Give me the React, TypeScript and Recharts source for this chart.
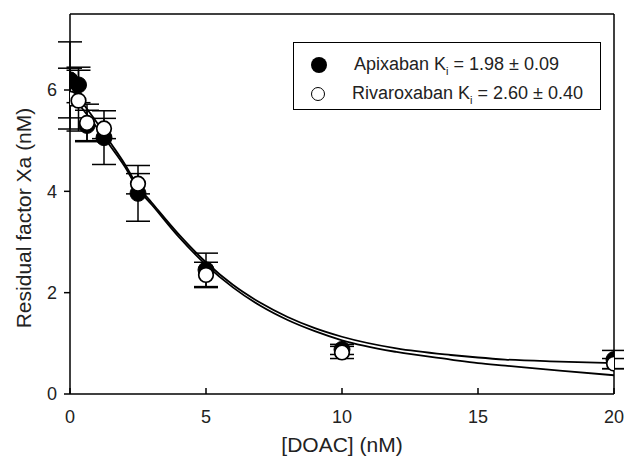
import React from 'react';
import {
  ComposedChart,
  Line,
  Scatter,
  ErrorBar,
  XAxis,
  YAxis,
  ReferenceLine,
} from 'recharts';

// measured concentrations (nM)
const concentrations = [0, 0.3125, 0.625, 1.25, 2.5, 5, 10, 20];

// residual factor Xa, mean and error (nM)
const apixabanMean = [6.2, 6.1, 5.3, 5.06, 3.96, 2.45, 0.88, 0.68];
const apixabanErr = [0.75, 0.35, 0.3, 0.53, 0.55, 0.33, 0.1, 0.18];
const rivaroxabanMean = [5.83, 5.79, 5.35, 5.24, 4.15, 2.35, 0.82, 0.6];
const rivaroxabanErr = [0.6, 0.6, 0.37, 0.2, 0.2, 0.25, 0.12, 0.1];

// fitted curves
const fitX = [0, 0.5, 1, 1.5, 2, 2.5, 3, 4, 5, 6, 7, 8, 9, 10, 12, 14, 15, 16, 18, 20];
const apixabanFit = [6.1, 5.72, 5.35, 4.95, 4.55, 4.1, 3.78, 3.15, 2.6, 2.15, 1.8, 1.52, 1.3, 1.13, 0.9, 0.77, 0.72, 0.68, 0.64, 0.61];
const rivaroxabanFit = [5.95, 5.6, 5.25, 4.88, 4.5, 4.05, 3.74, 3.1, 2.55, 2.1, 1.74, 1.46, 1.24, 1.06, 0.83, 0.68, 0.61, 0.56, 0.46, 0.37];

const xTicks = [0, 5, 10, 15, 20];
const yTicks = [0, 2, 4, 6];
const xMax = 20;
const yMax = 7.5;

const apixabanPoints = concentrations.map((x, i) => ({ x, y: apixabanMean[i], err: apixabanErr[i] }));
const rivaroxabanPoints = concentrations.map((x, i) => ({ x, y: rivaroxabanMean[i], err: rivaroxabanErr[i] }));
const apixabanCurve = fitX.map((x, i) => ({ x, y: apixabanFit[i] }));
const rivaroxabanCurve = fitX.map((x, i) => ({ x, y: rivaroxabanFit[i] }));

const FONT = '"Liberation Sans", Arial, sans-serif';
const TEXT = '#222';

const FilledDot = (props: any) => (
  <circle cx={props.cx} cy={props.cy} r={8} fill="#000" stroke="#000" strokeWidth={1} />
);
const OpenDot = (props: any) => (
  <circle cx={props.cx} cy={props.cy} r={7.3} fill="#fff" stroke="#000" strokeWidth={1.7} />
);

const YLabel = (props: any) => {
  const { viewBox } = props;
  const cx = viewBox.x + 13;
  const cy = viewBox.y + viewBox.height / 2 + 14;
  return (
    <text
      x={cx}
      y={cy}
      transform={`rotate(-90 ${cx} ${cy})`}
      textAnchor="middle"
      dominantBaseline="central"
      fontSize={21}
      fill={TEXT}
      fontFamily={FONT}
    >
      Residual factor Xa (nM)
    </text>
  );
};

const LegendBox = () => (
  <div
    style={{
      position: 'absolute',
      left: 293,
      top: 42,
      width: 306,
      height: 66,
      border: '1.5px solid #000',
      background: '#fff',
      fontFamily: FONT,
      fontSize: 18,
      color: TEXT,
    }}
  >
    <div style={{ position: 'absolute', left: 17, top: 11, display: 'flex', alignItems: 'center' }}>
      <span style={{ width: 16, height: 16, borderRadius: '50%', background: '#000', display: 'inline-block' }} />
      <span style={{ marginLeft: 27 }}>
        Apixaban K<sub style={{ fontSize: 11 }}>i</sub> = 1.98 ± 0.09
      </span>
    </div>
    <div style={{ position: 'absolute', left: 17, top: 40, display: 'flex', alignItems: 'center' }}>
      <span
        style={{
          width: 12,
          height: 12,
          borderRadius: '50%',
          border: '1.7px solid #000',
          display: 'inline-block',
          marginLeft: 0,
        }}
      />
      <span style={{ marginLeft: 27 }}>
        Rivaroxaban K<sub style={{ fontSize: 11 }}>i</sub> = 2.60 ± 0.40
      </span>
    </div>
  </div>
);

export default function App() {
  return (
    <div style={{ position: 'absolute', left: 0, top: 0, width: 624, height: 465, background: '#fff' }}>
      <ComposedChart
        width={624}
        height={465}
        margin={{ top: 14, right: 10, bottom: 21, left: 10 }}
      >
        <XAxis
          dataKey="x"
          type="number"
          domain={[0, xMax]}
          ticks={xTicks}
          allowDataOverflow
          height={50}
          stroke="#000"
          strokeWidth={1.5}
          tickSize={-6}
          tickMargin={22}
          tick={{ fontSize: 18, fill: TEXT, fontFamily: FONT }}
          label={{
            value: '[DOAC] (nM)',
            position: 'insideBottom',
            offset: -8,
            fontSize: 21,
            fill: TEXT,
            fontFamily: FONT,
          }}
        />
        <YAxis
          dataKey="y"
          type="number"
          domain={[0, yMax]}
          ticks={yTicks}
          width={60}
          stroke="#000"
          strokeWidth={1.5}
          tickSize={6}
          tickMargin={7}
          tick={{ fontSize: 18, fill: TEXT, fontFamily: FONT }}
          label={<YLabel />}
        />

        {/* frame: top and right edges */}
        <ReferenceLine y={yMax} stroke="#000" strokeWidth={1.5} />
        <ReferenceLine x={xMax} stroke="#000" strokeWidth={1.5} />

        <Line
          data={apixabanCurve}
          dataKey="y"
          type="monotone"
          stroke="#000"
          strokeWidth={1.8}
          dot={false}
          activeDot={false}
          isAnimationActive={false}
        />
        <Line
          data={rivaroxabanCurve}
          dataKey="y"
          type="monotone"
          stroke="#000"
          strokeWidth={1.8}
          dot={false}
          activeDot={false}
          isAnimationActive={false}
        />

        <Scatter data={apixabanPoints} dataKey="y" shape={<FilledDot />} isAnimationActive={false}>
          <ErrorBar dataKey="err" direction="y" width={12} stroke="#000" strokeWidth={1.5} isAnimationActive={false} />
        </Scatter>
        <Scatter data={rivaroxabanPoints} dataKey="y" shape={<OpenDot />} isAnimationActive={false}>
          <ErrorBar dataKey="err" direction="y" width={12} stroke="#000" strokeWidth={1.5} isAnimationActive={false} />
        </Scatter>
      </ComposedChart>
      <LegendBox />
    </div>
  );
}
